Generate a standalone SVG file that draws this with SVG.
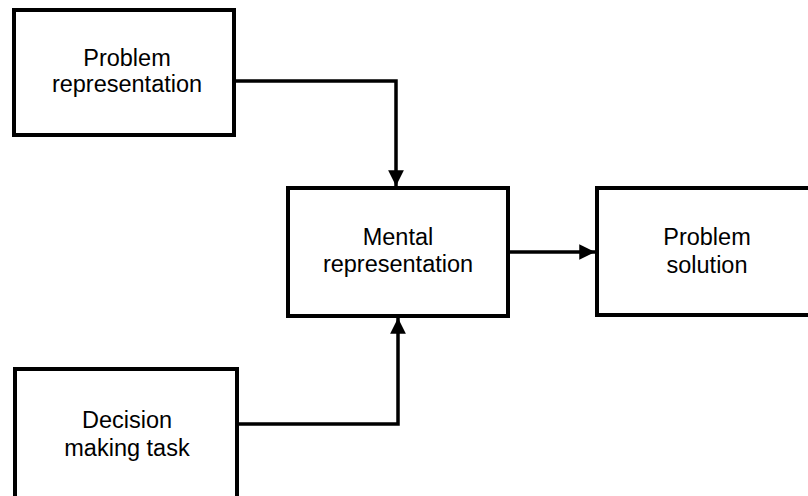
<svg xmlns="http://www.w3.org/2000/svg" width="808" height="496" viewBox="0 0 808 496">
<style>
.box{fill:#fff;stroke:#000;stroke-width:4}
.lbl{font-family:"Liberation Sans",Arial,sans-serif;font-size:23.5px;fill:#000;text-anchor:middle}
.con{fill:none;stroke:#000;stroke-width:3.5}
</style>
<defs>
<marker id="ah" viewBox="0 0 10 10" refX="10" refY="5" markerWidth="4.5" markerHeight="4.5" markerUnits="strokeWidth" orient="auto">
<path d="M0,0 L10,5 L0,10 z" fill="#000"/>
</marker>
</defs>
<rect width="808" height="496" fill="#fff"/>
<g id="problem-representation">
<rect class="box" x="14" y="10" width="220" height="125"/>
<text class="lbl" x="127" y="66">Problem</text>
<text class="lbl" x="127" y="92">representation</text>
</g>
<g id="mental-representation">
<rect class="box" x="288" y="188" width="220" height="128"/>
<text class="lbl" x="398" y="245">Mental</text>
<text class="lbl" x="398" y="272">representation</text>
</g>
<g id="problem-solution">
<rect class="box" x="597" y="188" width="240" height="127"/>
<text class="lbl" x="707" y="245">Problem</text>
<text class="lbl" x="707" y="273">solution</text>
</g>
<g id="decision-making-task">
<rect class="box" x="15" y="369" width="222" height="160"/>
<text class="lbl" x="127" y="428">Decision</text>
<text class="lbl" x="127" y="456">making task</text>
</g>
<g id="connectors">
<path class="con" d="M234,81 H396 V186" marker-end="url(#ah)"/>
<path class="con" d="M237,424 H398 V318" marker-end="url(#ah)"/>
<path class="con" d="M508,252 H595" marker-end="url(#ah)"/>
</g>
</svg>
